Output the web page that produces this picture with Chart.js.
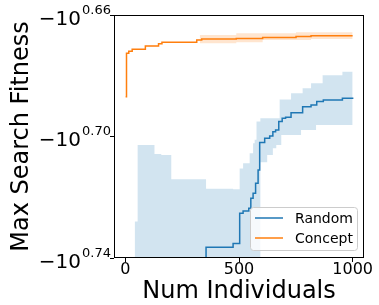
<!DOCTYPE html>
<html>
<head>
<meta charset="utf-8">
<script src="https://cdn.jsdelivr.net/npm/chart.js@4.4.0/dist/chart.umd.min.js"></script>
<style>
  html, body { margin: 0; padding: 0; background: #fff; }
  #wrap { width: 379px; height: 305px; }
</style>
</head>
<body>
<div id="wrap"><canvas id="fitness-chart" width="379" height="305"></canvas></div>
<script>
// axis ticks (y values are the exponent e in -10^e)
const xTicks = [0, 500, 1000];
const yTicks = [0.66, 0.70, 0.74];
const yTickLabels = ['0.66', '0.70', '0.74'];

// Random search: best fitness so far
const randomX = [0, 355, 474, 503, 518, 543, 552, 562, 573, 584, 591, 613, 635, 649, 661, 675, 690, 705, 729, 780, 817, 842, 871, 955, 1000];
const randomY = [0.78, 0.7365, 0.7352, 0.7253, 0.7245, 0.7236, 0.7203, 0.7187, 0.7154, 0.7110, 0.7020, 0.7006, 0.6998, 0.6984, 0.6979, 0.6951, 0.6940, 0.6937, 0.6922, 0.6902, 0.6896, 0.6885, 0.6880, 0.6874, 0.6872];

// Random search: spread
const randomBandX = [41, 54, 128, 158, 202, 355, 474, 503, 518, 547, 562, 569, 577, 594, 624, 649, 664, 679, 686, 729, 773, 780, 817, 839, 868, 955, 1000];
const randomBandTop = [0.7280, 0.7028, 0.7058, 0.7061, 0.7141, 0.7172, 0.7174, 0.7105, 0.7088, 0.7055, 0.7022, 0.7011, 0.6951, 0.6940, 0.6940, 0.6940, 0.6940, 0.6878, 0.6878, 0.6858, 0.6858, 0.6841, 0.6825, 0.6825, 0.6798, 0.6787, 0.6787];
const randomBandBottom = [0.78, 0.78, 0.78, 0.78, 0.78, 0.78, 0.78, 0.78, 0.78, 0.78, 0.78, 0.78, 0.78, 0.7085, 0.7061, 0.7039, 0.7028, 0.7028, 0.6995, 0.6995, 0.6979, 0.6979, 0.6979, 0.6962, 0.6962, 0.6962, 0.6962];

// Concept search: best fitness so far
const conceptX = [1, 5, 15, 30, 88, 146, 161, 314, 336, 488, 604, 751, 817, 1000];
const conceptY = [0.6869, 0.6726, 0.6719, 0.6713, 0.6702, 0.6695, 0.6690, 0.6682, 0.6679, 0.6677, 0.6674, 0.6671, 0.6668, 0.6668];

// Concept search: spread
const conceptBandX = [1, 5, 15, 30, 88, 146, 161, 314, 328, 336, 488, 604, 751, 817, 1000];
const conceptBandTop = [0.6868, 0.6725, 0.6718, 0.6712, 0.6701, 0.6694, 0.6689, 0.6681, 0.6666, 0.6666, 0.6660, 0.6660, 0.6657, 0.6657, 0.6657];
const conceptBandBottom = [0.6870, 0.6727, 0.6720, 0.6714, 0.6703, 0.6696, 0.6691, 0.6683, 0.6693, 0.6693, 0.6690, 0.6682, 0.6682, 0.6679, 0.6679];

const BLUE = '#1f77b4';
const ORANGE = '#ff7f0e';
const FONT = '"DejaVu Sans", sans-serif';

const toPoints = (xs, ys) => xs.map((x, i) => ({x: x, y: ys[i]}));

// 'before' in Chart.js = hold previous value until the next x, then jump
function lineSet(label, xs, ys, color, order) {
    return {
        label: label,
        data: toPoints(xs, ys),
        borderColor: color,
        borderWidth: 1.5,
        pointRadius: 0,
        stepped: 'before',
        fill: false,
        clip: 0,
        order: order
    };
}

function bandSets(xs, top, bottom, fillColor, order) {
    return [{
        label: '',
        data: toPoints(xs, top),
        borderWidth: 0,
        pointRadius: 0,
        stepped: 'before',
        backgroundColor: fillColor,
        fill: '+1',
        clip: 0,
        order: order
    }, {
        label: '',
        data: toPoints(xs, bottom),
        borderWidth: 0,
        pointRadius: 0,
        stepped: 'before',
        fill: false,
        clip: 0,
        order: order
    }];
}

const legendItems = [
    {label: 'Random', color: BLUE},
    {label: 'Concept', color: ORANGE}
];

// frame, y tick labels (-10 with superscript) and legend
const extras = {
    id: 'extras',
    afterDraw(chart) {
        const {ctx, chartArea: a, scales: {y}} = chart;
        ctx.save();
        ctx.strokeStyle = '#000';
        ctx.lineWidth = 1;
        ctx.strokeRect(Math.round(a.left) + 0.5, Math.round(a.top) + 0.5,
            Math.round(a.right - a.left) - 1, Math.round(a.bottom - a.top) - 1);

        ctx.fillStyle = '#000';
        ctx.textAlign = 'right';
        ctx.textBaseline = 'alphabetic';
        yTicks.forEach((v, i) => {
            const py = y.getPixelForValue(v);
            ctx.font = '13px ' + FONT;
            const sup = yTickLabels[i];
            const supW = ctx.measureText(sup).width;
            const right = a.left - 3;
            ctx.fillText(sup, right, py - 1.5);
            ctx.font = '20px ' + FONT;
            ctx.fillText('\u221210', right - supW - 1, py + 9.5);
        });

        // legend box
        const bx = 250, by = 207, bw = 107, bh = 43;
        ctx.beginPath();
        ctx.roundRect(bx + 0.5, by + 0.5, bw, bh, 3);
        ctx.fillStyle = 'rgba(255,255,255,0.8)';
        ctx.fill();
        ctx.strokeStyle = '#cccccc';
        ctx.stroke();
        ctx.textAlign = 'left';
        ctx.textBaseline = 'middle';
        ctx.font = '14px ' + FONT;
        legendItems.forEach((it, i) => {
            const ly = by + 11 + i * 20;
            ctx.beginPath();
            ctx.moveTo(bx + 5, ly);
            ctx.lineTo(bx + 33, ly);
            ctx.strokeStyle = it.color;
            ctx.lineWidth = 1.5;
            ctx.stroke();
            ctx.fillStyle = '#000';
            ctx.fillText(it.label, bx + 45, ly + 1);
        });
        ctx.restore();
    }
};

const datasets = [
    lineSet('Concept', conceptX, conceptY, ORANGE, 0),
    ...bandSets(conceptBandX, conceptBandTop, conceptBandBottom, 'rgba(255,127,14,0.2)', 1),
    lineSet('Random', randomX, randomY, BLUE, 2),
    ...bandSets(randomBandX, randomBandTop, randomBandBottom, 'rgba(31,119,180,0.2)', 3)
];

new Chart(document.getElementById('fitness-chart'), {
    type: 'line',
    data: {datasets: datasets},
    options: {
        responsive: false,
        animation: false,
        devicePixelRatio: 1,
        layout: {padding: {top: 15, right: 15, left: 0, bottom: 0}},
        plugins: {legend: {display: false}, tooltip: {enabled: false}},
        scales: {
            x: {
                type: 'linear',
                min: -50,
                max: 1050,
                afterBuildTicks: s => { s.ticks = xTicks.map(v => ({value: v})); },
                afterFit: s => { s.height = 47; },
                border: {display: false},
                grid: {drawOnChartArea: false, color: '#000', tickLength: 4, tickWidth: 1},
                ticks: {color: '#000', font: {family: FONT, size: 16, lineHeight: 1}, padding: 0,
                    maxRotation: 0, callback: v => String(v)},
                title: {display: true, text: 'Num Individuals', color: '#000',
                    font: {family: FONT, size: 24, lineHeight: 1}, padding: {top: 0, bottom: 1}}
            },
            y: {
                type: 'linear',
                min: 0.66,
                max: 0.74,
                reverse: true,
                afterBuildTicks: s => { s.ticks = yTicks.map(v => ({value: v})); },
                afterFit: s => { s.width = 114; },
                border: {display: false},
                grid: {drawOnChartArea: false, color: '#000', tickLength: 4, tickWidth: 1},
                ticks: {display: false},
                title: {display: true, text: 'Max Search Fitness', color: '#000',
                    font: {family: FONT, size: 24, lineHeight: 1}, padding: {top: 10, bottom: 0}}
            }
        }
    },
    plugins: [extras]
});
</script>
</body>
</html>
